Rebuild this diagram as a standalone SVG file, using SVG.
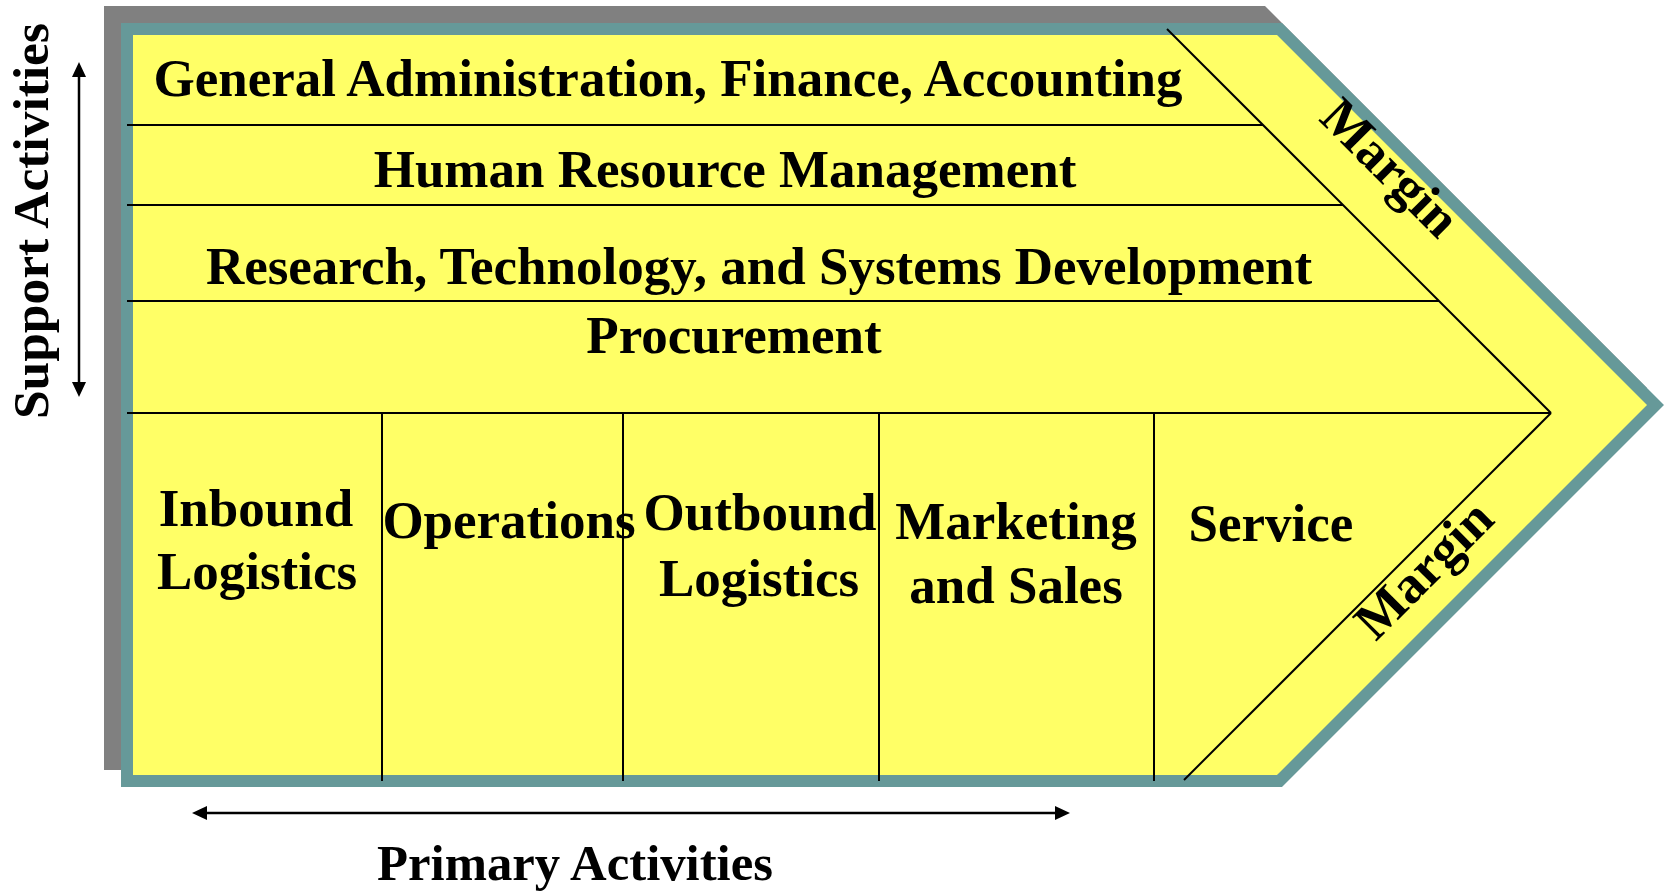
<svg xmlns="http://www.w3.org/2000/svg" width="1664" height="891" viewBox="0 0 1664 891">
  <defs>
    <style>
      .lbl { font-family: "Liberation Serif", "Times New Roman", serif; font-weight: bold; font-size: 53px; fill: #000; text-anchor: middle; }
      .axis { font-family: "Liberation Serif", "Times New Roman", serif; font-weight: bold; font-size: 50px; fill: #000; text-anchor: middle; }
      .ln { stroke: #000; stroke-width: 2; fill: none; }
      .arr { stroke: #000; stroke-width: 2.5; fill: none; }
    </style>
    <marker id="ah" viewBox="0 0 15 14" refX="2" refY="7" markerWidth="15" markerHeight="14" markerUnits="userSpaceOnUse" orient="auto-start-reverse">
      <path d="M0,0 L15,7 L0,14 Z" fill="#000"/>
    </marker>
  </defs>
  <rect width="1664" height="891" fill="#fff"/>

  <g id="chain-body">
    <polygon points="104,6 1265,6 1647,388 1265,770 104,770" fill="#808080"/>
    <polygon points="127,29 1279.5,29 1655.5,405 1279.5,781 127,781" fill="#FFFF66" stroke="#669999" stroke-width="12" stroke-linejoin="miter"/>
    <line class="ln" x1="127" y1="125" x2="1263" y2="125"/>
    <line class="ln" x1="127" y1="205" x2="1343" y2="205"/>
    <line class="ln" x1="127" y1="301" x2="1439" y2="301"/>
    <line class="ln" x1="127" y1="413" x2="1551" y2="413"/>
    <line class="ln" x1="1167" y1="29" x2="1551" y2="413"/>
    <line class="ln" x1="1551" y1="413" x2="1184" y2="780"/>
    <line class="ln" x1="382" y1="413" x2="382" y2="781"/>
    <line class="ln" x1="623" y1="413" x2="623" y2="781"/>
    <line class="ln" x1="879" y1="413" x2="879" y2="781"/>
    <line class="ln" x1="1154" y1="413" x2="1154" y2="781"/>
  </g>

  <g id="general-admin"><text class="lbl" x="668" y="96">General Administration, Finance, Accounting</text></g>
  <g id="hrm"><text class="lbl" x="725" y="187">Human Resource Management</text></g>
  <g id="rtsd"><text class="lbl" x="759" y="284">Research, Technology, and Systems Development</text></g>
  <g id="procurement"><text class="lbl" x="734" y="353">Procurement</text></g>

  <g id="inbound"><text class="lbl" x="256" y="526">Inbound</text><text class="lbl" x="257" y="589">Logistics</text></g>
  <g id="operations"><text class="lbl" x="509" y="538">Operations</text></g>
  <g id="outbound"><text class="lbl" x="760" y="530">Outbound</text><text class="lbl" x="759" y="596">Logistics</text></g>
  <g id="marketing"><text class="lbl" x="1016" y="539">Marketing</text><text class="lbl" x="1016" y="603">and Sales</text></g>
  <g id="service"><text class="lbl" x="1271" y="541">Service</text></g>

  <g id="margin-top"><text class="lbl" transform="translate(1378,180) rotate(45)" x="0" y="0">Margin</text></g>
  <g id="margin-bottom"><text class="lbl" transform="translate(1436,582) rotate(-45)" x="0" y="0">Margin</text></g>

  <g id="support-label"><text class="axis" transform="translate(48,221) rotate(-90)" x="0" y="0" textLength="396" lengthAdjust="spacingAndGlyphs">Support Activities</text></g>
  <g id="primary-label"><text class="axis" x="575" y="880" textLength="396" lengthAdjust="spacingAndGlyphs">Primary Activities</text></g>

  <g id="connectors">
    <line class="arr" x1="79" y1="75" x2="79" y2="384" marker-start="url(#ah)" marker-end="url(#ah)"/>
    <line class="arr" x1="205" y1="813" x2="1057" y2="813" marker-start="url(#ah)" marker-end="url(#ah)"/>
  </g>
</svg>
